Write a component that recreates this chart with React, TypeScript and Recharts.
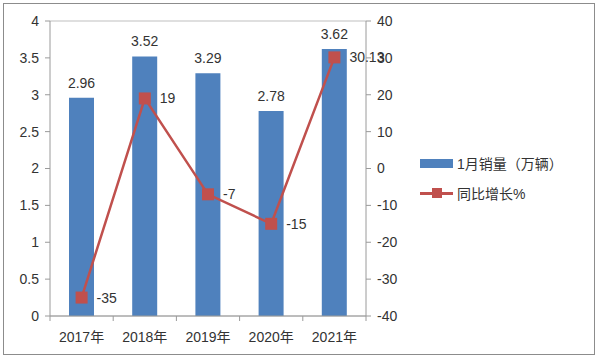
import React from "react";
import {
  ComposedChart,
  Bar,
  Line,
  XAxis,
  YAxis,
  CartesianGrid,
  LabelList,
} from "recharts";

const years = ["2017年", "2018年", "2019年", "2020年", "2021年"];
const sales = [2.96, 3.52, 3.29, 2.78, 3.62];
const growth = [-35, 19, -7, -15, 30.13];
const leftTicks = [0, 0.5, 1, 1.5, 2, 2.5, 3, 3.5, 4];
const rightTicks = [-40, -30, -20, -10, 0, 10, 20, 30, 40];

const BLUE = "#4F81BD";
const RED = "#C0504D";
const AXIS = "#9a9a9a";
const TEXT = "#333";
const FONT = '"Liberation Sans", "Noto Sans CJK SC", sans-serif';

const data = years.map((y, i) => ({ year: y, sales: sales[i], growth: growth[i] }));

const BAND = (366 - 50) / years.length;

// x tick: label at centre, tick marks at category boundaries
const XTick = (props: any) => {
  const { x, y, payload, index } = props;
  const left = x - BAND / 2;
  return (
    <g>
      <line x1={left} y1={y - 8} x2={left} y2={y - 3} stroke={AXIS} />
      {index === years.length - 1 && (
        <line x1={x + BAND / 2} y1={y - 8} x2={x + BAND / 2} y2={y - 3} stroke={AXIS} />
      )}
      <text x={x} y={y + 18} textAnchor="middle" fill={TEXT} fontSize={14} fontFamily={FONT}>
        {payload.value}
      </text>
    </g>
  );
};

const SquareDot = (props: any) => {
  const { cx, cy } = props;
  if (cx == null || cy == null) return null;
  return <rect x={cx - 6} y={cy - 6} width={12} height={12} fill={RED} />;
};

const GrowthLabel = (props: any) => {
  const { x, y, value } = props;
  return (
    <text x={x + 15} y={y + 5} fill={TEXT} fontSize={14} fontFamily={FONT}>
      {value}
    </text>
  );
};

export default function App() {
  return (
    <div style={{ position: "fixed", left: 0, top: 0, width: 600, height: 360, background: "#fff" }}>
      <div
        style={{
          position: "absolute",
          left: 3,
          top: 3,
          width: 592,
          height: 352,
          border: "1px solid #8c8c8c",
          boxSizing: "border-box",
        }}
      />
      <ComposedChart
        width={600}
        height={360}
        data={data}
        margin={{ top: 21, right: 194, bottom: 10, left: 0 }}
        barCategoryGap="30%"
      >
        <CartesianGrid vertical={false} stroke="#bfbfbf" />
        <XAxis
          dataKey="year"
          height={34}
          axisLine={{ stroke: AXIS }}
          tickLine={false}
          tick={<XTick />}
          interval={0}
        />
        <YAxis
          yAxisId="left"
          width={50}
          domain={[0, 4]}
          ticks={leftTicks}
          axisLine={{ stroke: AXIS }}
          tickLine={{ stroke: AXIS }}
          tickSize={5}
          tick={{ fill: TEXT, fontSize: 14, fontFamily: FONT }}
          tickMargin={6}
        />
        <YAxis
          yAxisId="right"
          orientation="right"
          width={40}
          domain={[-40, 40]}
          ticks={rightTicks}
          axisLine={{ stroke: AXIS }}
          tickLine={{ stroke: AXIS }}
          tickSize={5}
          tick={{ fill: TEXT, fontSize: 14, fontFamily: FONT }}
          tickMargin={6}
        />
        <Bar yAxisId="left" dataKey="sales" fill={BLUE} barSize={25} isAnimationActive={false}>
          <LabelList
            dataKey="sales"
            position="top"
            offset={10}
            fill={TEXT}
            fontSize={14}
            fontFamily={FONT}
          />
        </Bar>
        <Line
          yAxisId="right"
          dataKey="growth"
          stroke={RED}
          strokeWidth={2.5}
          dot={<SquareDot />}
          activeDot={false}
          isAnimationActive={false}
        >
          <LabelList dataKey="growth" content={<GrowthLabel />} />
        </Line>
      </ComposedChart>
      <div
        style={{
          position: "absolute",
          left: 420,
          top: 152,
          fontFamily: FONT,
          fontSize: 14,
          color: TEXT,
        }}
      >
        <div style={{ display: "flex", alignItems: "center", height: 22 }}>
          <div style={{ width: 33, height: 9, background: BLUE, marginRight: 4 }} />
          <span>1月销量（万辆）</span>
        </div>
        <div style={{ display: "flex", alignItems: "center", height: 22, marginTop: 8 }}>
          <div style={{ position: "relative", width: 33, height: 12, marginRight: 4 }}>
            <div style={{ position: "absolute", left: 0, top: 5, width: 33, height: 2.5, background: RED }} />
            <div style={{ position: "absolute", left: 11.5, top: 1, width: 10, height: 10, background: RED }} />
          </div>
          <span>同比增长%</span>
        </div>
      </div>
    </div>
  );
}
